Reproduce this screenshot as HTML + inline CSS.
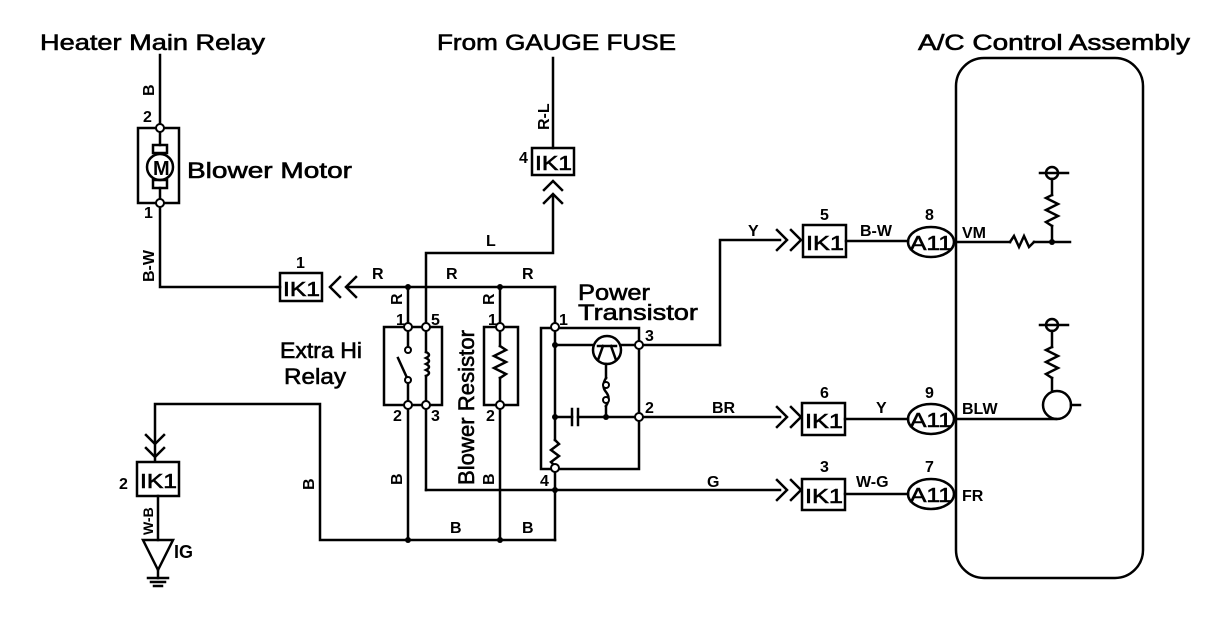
<!DOCTYPE html>
<html><head><meta charset="utf-8"><style>
html,body{margin:0;padding:0;background:#fff;}
svg{display:block}
text{font-family:"Liberation Sans",sans-serif;font-weight:bold;fill:#000}
.t{font-weight:normal;stroke:#000;stroke-width:0.6}
</style></head><body>
<svg width="1216" height="634" viewBox="0 0 1216 634" xmlns="http://www.w3.org/2000/svg">
<g stroke="#000" stroke-width="2.5" fill="none" stroke-linecap="square">
<line x1="160" y1="55" x2="160" y2="128"/>
<rect x="138" y="128" width="41" height="75"/>
<line x1="160" y1="128" x2="160" y2="145"/>
<rect x="153" y="145" width="14" height="8"/>
<circle cx="160" cy="167" r="13"/>
<rect x="153" y="180" width="14" height="8"/>
<line x1="160" y1="188" x2="160" y2="203"/>
<polyline points="160,203 160,287 280,287"/>
<rect x="280" y="273" width="42" height="28"/>
<polyline points="340,277 330,287 340,297"/>
<polyline points="356,277 346,287 356,297"/>
<line x1="348" y1="287" x2="555" y2="287"/>
<line x1="553" y1="58" x2="553" y2="148"/>
<rect x="532" y="148" width="42" height="27"/>
<polyline points="544,190 553,181 562,190"/>
<polyline points="544,203 553,194 562,203"/>
<polyline points="553,196 553,253 426,253 426,327"/>
<rect x="384" y="327" width="58" height="78"/>
<line x1="408" y1="287" x2="408" y2="350"/>
<line x1="408" y1="380" x2="408" y2="540"/>
<line x1="408" y1="380" x2="398" y2="358"/>
<line x1="426" y1="327" x2="426" y2="352"/>
<path d="M426 352 q6 3 0 6 q6 3 0 6 q6 3 0 6 q6 3 0 6"/>
<line x1="426" y1="376" x2="426" y2="490"/>
<line x1="426" y1="490" x2="780" y2="490"/>
<rect x="484" y="327" width="34" height="78"/>
<line x1="500" y1="287" x2="500" y2="346"/>
<polyline points="500,346 506,350 494,356 506,362 494,368 506,374 500,378"/>
<line x1="500" y1="378" x2="500" y2="540"/>
<polyline points="555,287 555,327"/>
<rect x="541" y="328" width="98" height="141"/>
<line x1="555" y1="327" x2="555" y2="440"/>
<polyline points="555,440 559,444 551,450 559,456 551,462 555,466"/>
<line x1="555" y1="466" x2="555" y2="540"/>
<polyline points="555,345 592,345"/>
<line x1="622" y1="345" x2="720" y2="345"/>
<circle cx="607" cy="350" r="14"/>
<line x1="598" y1="346" x2="616" y2="346"/>
<line x1="603" y1="346" x2="598" y2="360"/>
<line x1="611" y1="346" x2="616" y2="360"/>
<line x1="606" y1="364" x2="606" y2="378"/>
<path d="M606 378 q-5 8 0 14 q5 6 0 14"/>
<line x1="606" y1="406" x2="606" y2="417"/>
<line x1="555" y1="417" x2="572" y2="417"/>
<line x1="572" y1="409" x2="572" y2="425"/>
<line x1="578" y1="409" x2="578" y2="425"/>
<line x1="578" y1="417" x2="780" y2="417"/>
<polyline points="720,345 720,240 780,240"/>
<polyline points="555,540 320,540 320,404 155,404 155,460"/>
<polyline points="146,435 155,444 164,435"/>
<polyline points="146,448 155,457 164,448"/>
<rect x="137" y="462" width="42" height="34"/>
<polyline points="158,496 158,540"/>
<polygon points="143,540 173,540 158,570"/>
<line x1="158" y1="570" x2="158" y2="578"/>
<line x1="148" y1="578" x2="168" y2="578"/>
<line x1="151" y1="582" x2="165" y2="582"/>
<line x1="154" y1="586" x2="162" y2="586"/>
<g>
<polyline points="777,230 787,240 777,250"/><polyline points="791,230 801,240 791,250"/>
<rect x="803" y="225" width="43" height="32"/>
<line x1="846" y1="241" x2="908" y2="241"/>
<ellipse cx="931" cy="242" rx="23" ry="15"/>
</g>
<g>
<polyline points="777,407 787,417 777,427"/><polyline points="791,407 801,417 791,427"/>
<rect x="802" y="403" width="43" height="32"/>
<line x1="845" y1="419" x2="908" y2="419"/>
<ellipse cx="931" cy="419" rx="23" ry="15"/>
</g>
<g>
<polyline points="777,480 787,490 777,500"/><polyline points="791,480 801,490 791,500"/>
<rect x="802" y="479" width="43" height="31"/>
<line x1="845" y1="494" x2="908" y2="494"/>
<ellipse cx="931" cy="494" rx="23" ry="15"/>
</g>
<rect x="956" y="58" width="187" height="520" rx="28"/>
<line x1="956" y1="242" x2="1010" y2="242"/>
<polyline points="1010,242 1014,236 1019,247 1024,236 1029,247 1034,242"/>
<line x1="1034" y1="242" x2="1070" y2="242"/>
<line x1="1052" y1="242" x2="1052" y2="226"/>
<polyline points="1052,226 1046,222 1058,216 1046,210 1058,204 1046,198 1052,195"/>
<line x1="1052" y1="195" x2="1052" y2="179"/>
<circle cx="1052" cy="173" r="6"/>
<line x1="1040" y1="173" x2="1068" y2="173"/>
<line x1="956" y1="419" x2="1056" y2="419"/>
<circle cx="1057" cy="405" r="14"/>
<line x1="1071" y1="405" x2="1080" y2="405"/>
<line x1="1052" y1="391" x2="1052" y2="378"/>
<polyline points="1052,378 1046,374 1058,368 1046,362 1058,356 1046,350 1052,347"/>
<line x1="1052" y1="347" x2="1052" y2="331"/>
<circle cx="1052" cy="325" r="6"/>
<line x1="1040" y1="325" x2="1068" y2="325"/>
</g>
<g stroke="#000" stroke-width="2" fill="#fff">
<circle cx="160" cy="128" r="4"/><circle cx="160" cy="203" r="4"/>
<circle cx="408" cy="327" r="4"/><circle cx="426" cy="327" r="4"/>
<circle cx="408" cy="405" r="4"/><circle cx="426" cy="405" r="4"/>
<circle cx="408" cy="350" r="3"/><circle cx="408" cy="380" r="3"/>
<circle cx="500" cy="327" r="4"/><circle cx="500" cy="405" r="4"/>
<circle cx="555" cy="327" r="4"/><circle cx="639" cy="345" r="4"/>
<circle cx="639" cy="417" r="4"/><circle cx="555" cy="468" r="4"/>
<circle cx="606" cy="385" r="3"/><circle cx="606" cy="400" r="3"/>
</g>
<g fill="#000">
<circle cx="408" cy="287" r="3"/><circle cx="500" cy="287" r="3"/>
<circle cx="408" cy="540" r="3"/><circle cx="500" cy="540" r="3"/>
<circle cx="555" cy="345" r="3"/><circle cx="555" cy="417" r="3"/>
<circle cx="606" cy="417" r="3"/><circle cx="555" cy="490" r="3"/>
<circle cx="1052" cy="242" r="3"/>
</g>
<text x="153" y="175" font-size="20">M</text>
<g font-size="22">
<text class="t" x="40" y="50" textLength="225" lengthAdjust="spacingAndGlyphs">Heater Main Relay</text>
<text class="t" x="437" y="50" textLength="239" lengthAdjust="spacingAndGlyphs">From GAUGE FUSE</text>
<text class="t" x="918" y="50" textLength="272" lengthAdjust="spacingAndGlyphs">A/C Control Assembly</text>
<text class="t" x="187" y="178" textLength="165" lengthAdjust="spacingAndGlyphs">Blower Motor</text>
<text class="t" x="280" y="358" textLength="82" lengthAdjust="spacingAndGlyphs">Extra Hi</text>
<text class="t" x="284" y="384" textLength="62" lengthAdjust="spacingAndGlyphs">Relay</text>
<text class="t" x="578" y="300" textLength="72" lengthAdjust="spacingAndGlyphs">Power</text>
<text class="t" x="578" y="320" textLength="120" lengthAdjust="spacingAndGlyphs">Transistor</text>
<text class="t" transform="translate(474,485) rotate(-90)" textLength="155" lengthAdjust="spacingAndGlyphs">Blower Resistor</text>
</g>
<g font-size="20">
<text class="t" x="283" y="296" textLength="37" lengthAdjust="spacingAndGlyphs">IK1</text>
<text class="t" x="535" y="170" textLength="37" lengthAdjust="spacingAndGlyphs">IK1</text>
<text class="t" x="140" y="488" textLength="37" lengthAdjust="spacingAndGlyphs">IK1</text>
<text class="t" x="806" y="250" textLength="38" lengthAdjust="spacingAndGlyphs">IK1</text>
<text class="t" x="805" y="428" textLength="38" lengthAdjust="spacingAndGlyphs">IK1</text>
<text class="t" x="805" y="503" textLength="38" lengthAdjust="spacingAndGlyphs">IK1</text>
<text class="t" x="910" y="250" textLength="42" lengthAdjust="spacingAndGlyphs">A11</text>
<text class="t" x="910" y="427" textLength="42" lengthAdjust="spacingAndGlyphs">A11</text>
<text class="t" x="910" y="502" textLength="42" lengthAdjust="spacingAndGlyphs">A11</text>
</g>
<g font-size="16">
<text x="143" y="122">2</text><text x="144" y="218">1</text>
<text x="296" y="268">1</text><text x="519" y="163">4</text>
<text x="372" y="279">R</text><text x="446" y="279">R</text><text x="522" y="279">R</text>
<text x="486" y="246">L</text>
<text x="396" y="325">1</text><text x="431" y="325">5</text>
<text x="393" y="421">2</text><text x="431" y="421">3</text>
<text x="488" y="325">1</text><text x="486" y="421">2</text>
<text x="559" y="325">1</text><text x="645" y="341">3</text><text x="645" y="413">2</text>
<text x="540" y="486">4</text>
<text x="450" y="533">B</text><text x="522" y="533">B</text>
<text x="119" y="489">2</text>
<text x="748" y="236">Y</text><text x="820" y="220">5</text><text x="860" y="236">B-W</text><text x="925" y="220">8</text><text x="962" y="238">VM</text>
<text x="712" y="413">BR</text><text x="820" y="398">6</text><text x="876" y="413">Y</text><text x="925" y="398">9</text><text x="962" y="414">BLW</text>
<text x="707" y="487">G</text><text x="820" y="472">3</text><text x="856" y="487">W-G</text><text x="925" y="472">7</text><text x="962" y="501">FR</text>
<text x="174" y="558" font-size="18">IG</text>
<text transform="translate(154,96) rotate(-90)">B</text>
<text transform="translate(154,282) rotate(-90)">B-W</text>
<text transform="translate(549,130) rotate(-90)">R-L</text>
<text transform="translate(402,305) rotate(-90)">R</text>
<text transform="translate(494,305) rotate(-90)">R</text>
<text transform="translate(402,485) rotate(-90)">B</text>
<text transform="translate(494,485) rotate(-90)">B</text>
<text transform="translate(314,490) rotate(-90)">B</text>
<text transform="translate(153,535) rotate(-90)" font-size="14">W-B</text>
</g>
</svg>
</body></html>
